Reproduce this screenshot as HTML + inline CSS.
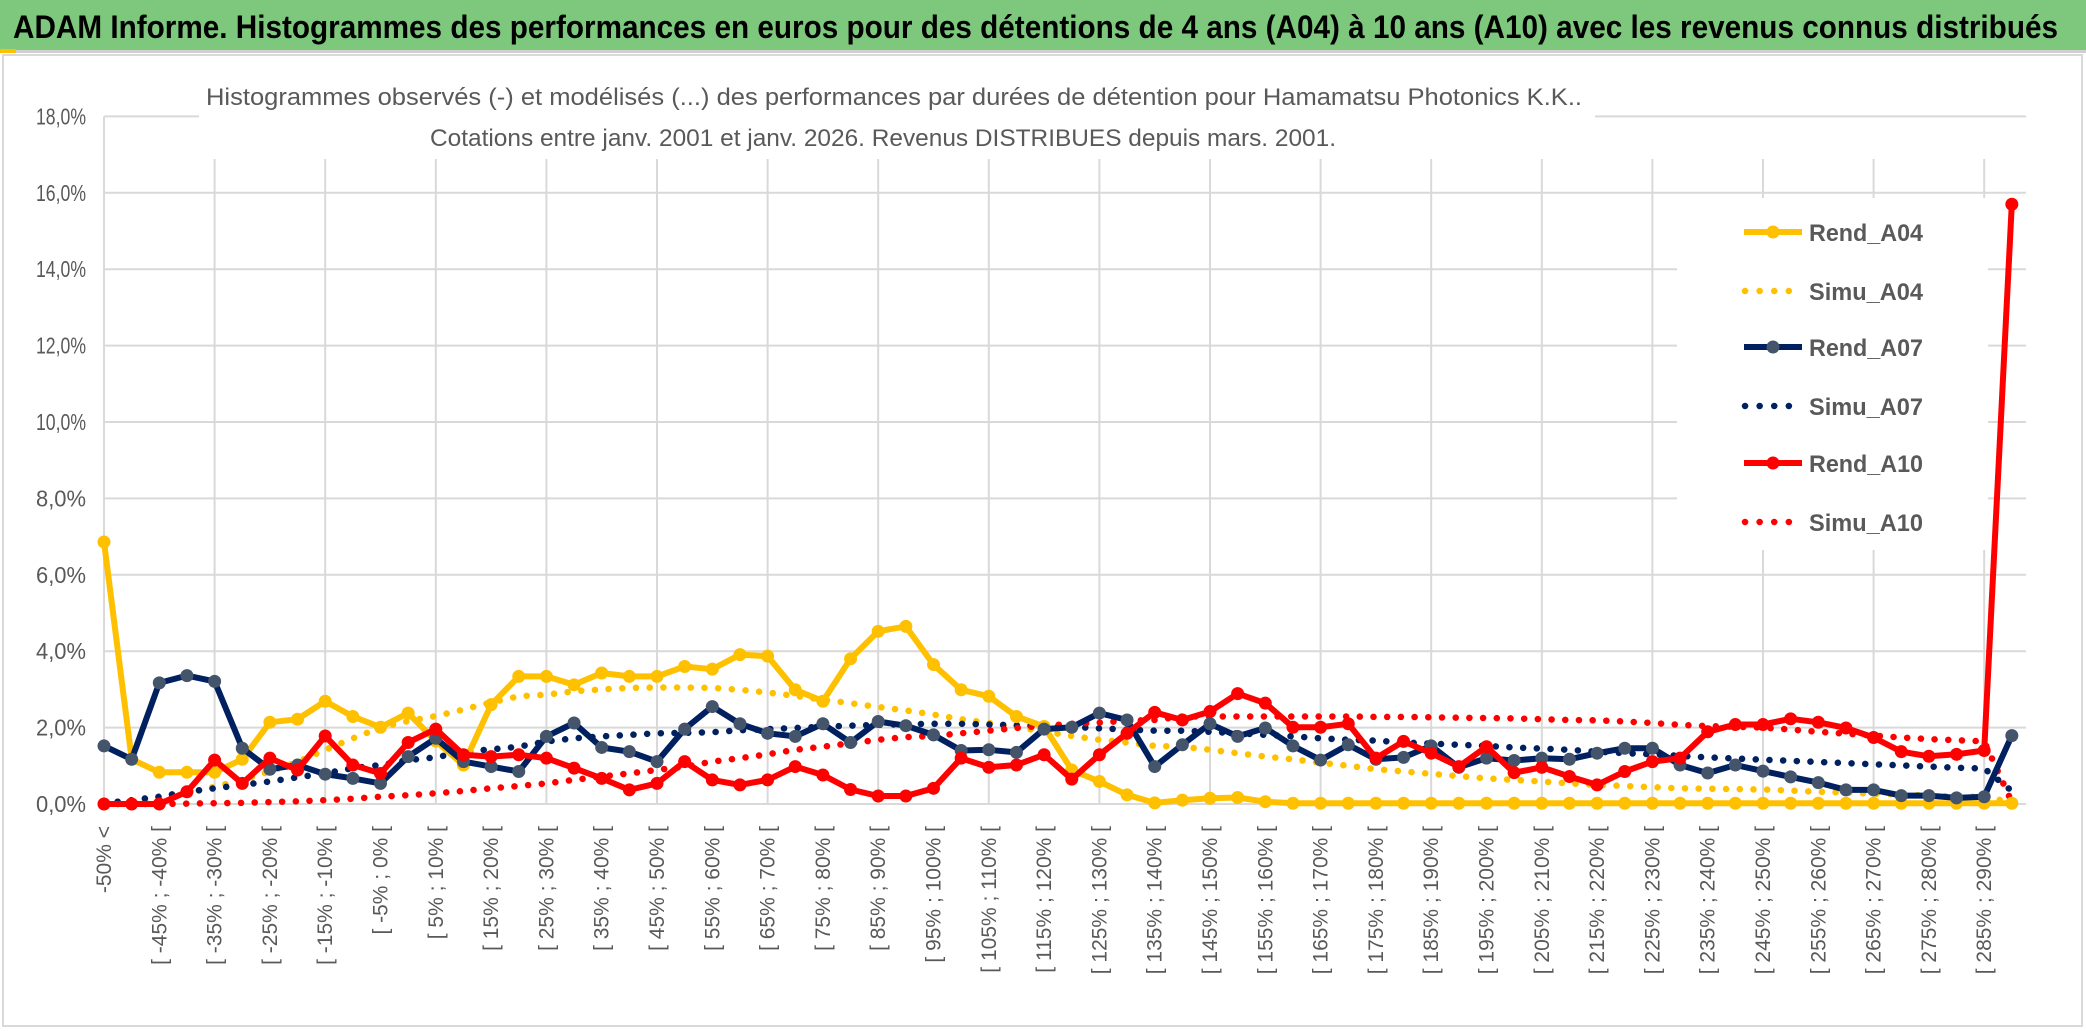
<!DOCTYPE html>
<html><head><meta charset="utf-8">
<style>
html,body{margin:0;padding:0;background:#fff;}
svg{display:block;}
text{font-family:"Liberation Sans",sans-serif;}
</style></head>
<body>
<svg id="chart" width="2086" height="1031" viewBox="0 0 2086 1031" xmlns="http://www.w3.org/2000/svg">
  <rect x="0" y="0" width="2086" height="1031" fill="#fff"/>
  <rect x="0" y="0" width="2086" height="50" fill="#7DC87D"/>
  <rect x="0" y="50" width="2086" height="3" fill="#d0d0d0"/>
  <rect x="0" y="49" width="16" height="4" fill="#FFC000"/>
  <text x="13" y="38" font-size="32" font-weight="bold" fill="#000" textLength="2045" lengthAdjust="spacingAndGlyphs">ADAM Informe. Histogrammes des performances en euros pour des détentions de 4 ans (A04) à 10 ans (A10) avec les revenus connus distribués</text>
  <rect x="3" y="55" width="2079" height="971" fill="none" stroke="#d9d9d9" stroke-width="2"/>
  <g id="grid"></g>
  <rect x="199" y="80" width="1396" height="78" fill="#fff"/>
  <text x="206" y="105" font-size="24" fill="#595959" textLength="1376" lengthAdjust="spacingAndGlyphs">Histogrammes observés (-) et modélisés (...) des performances par durées de détention pour Hamamatsu Photonics K.K..</text>
  <text x="430" y="146" font-size="24" fill="#595959" textLength="906" lengthAdjust="spacingAndGlyphs">Cotations entre janv. 2001 et janv. 2026. Revenus DISTRIBUES depuis mars. 2001.</text>
  <g id="yaxis"></g>
  <g id="xaxis"></g>
  <rect x="1677" y="198" width="311" height="352" fill="#fff"/>
  <g id="series"></g>
  <g id="legend"></g>
</svg>
<script>
const yTicks = [0,2,4,6,8,10,12,14,16,18];
const seriesNames = ["Rend_A04","Simu_A04","Rend_A07","Simu_A07","Rend_A10","Simu_A10"];
const rendA04 = [6.86,1.17,0.83,0.83,0.83,1.17,2.14,2.22,2.69,2.29,2.01,2.38,1.65,1.02,2.6,3.34,3.34,3.12,3.43,3.34,
 3.34,3.6,3.53,3.91,3.87,2.99,2.69,3.8,4.52,4.65,3.65,2.99,2.82,2.29,2.03,0.89,0.59,0.24,0.03,0.1,
 0.15,0.17,0.06,0.02,0.02,0.02,0.02,0.02,0.02,0.02,0.02,0.02,0.02,0.02,0.02,0.02,0.02,0.02,0.02,0.02,
 0.02,0.02,0.02,0.02,0.02,0.02,0.02,0.02,0.02,0.02];
const simuA04 = [0,0.05,0.12,0.28,0.45,0.63,0.85,1.1,1.42,1.72,2.0,2.17,2.3,2.47,2.66,2.82,2.86,2.95,3.0,3.04,
 3.05,3.05,3.04,2.99,2.92,2.83,2.73,2.64,2.54,2.45,2.34,2.22,2.12,2.01,1.9,1.78,1.68,1.61,1.52,1.5,
 1.42,1.33,1.24,1.17,1.08,1.0,0.91,0.85,0.79,0.73,0.67,0.63,0.59,0.54,0.5,0.47,0.44,0.41,0.4,0.39,
 0.38,0.35,0.32,0.3,0.27,0.25,0.22,0.2,0.18,0.05];
const rendA07 = [1.52,1.17,3.17,3.36,3.21,1.46,0.91,1.02,0.78,0.67,0.54,1.24,1.72,1.11,0.98,0.85,1.77,2.12,1.48,1.37,
 1.11,1.96,2.55,2.1,1.85,1.77,2.1,1.61,2.16,2.05,1.81,1.4,1.42,1.35,1.96,2.01,2.38,2.2,0.98,1.55,
 2.1,1.77,1.99,1.52,1.15,1.55,1.17,1.22,1.52,0.96,1.2,1.14,1.2,1.17,1.33,1.46,1.46,1.02,0.81,1.02,
 0.86,0.71,0.56,0.37,0.37,0.22,0.22,0.16,0.19,1.79];
const simuA07 = [0.02,0.1,0.19,0.32,0.41,0.5,0.59,0.7,0.8,0.94,1.02,1.15,1.22,1.37,1.43,1.5,1.64,1.72,1.77,1.81,
 1.85,1.86,1.88,1.93,1.96,1.99,2.02,2.05,2.07,2.09,2.1,2.1,2.08,2.06,2.04,2.02,1.98,1.95,1.92,1.92,
 1.89,1.85,1.81,1.77,1.72,1.68,1.66,1.61,1.58,1.55,1.52,1.48,1.45,1.42,1.37,1.33,1.3,1.26,1.22,1.19,
 1.16,1.13,1.1,1.07,1.04,1.01,0.98,0.95,0.93,0.34];
const rendA10 = [0,0,0,0.32,1.15,0.54,1.2,0.89,1.78,1.02,0.8,1.61,1.96,1.29,1.24,1.29,1.2,0.94,0.67,0.37,
 0.54,1.11,0.63,0.5,0.63,0.98,0.76,0.38,0.21,0.21,0.41,1.2,0.96,1.02,1.29,0.65,1.29,1.85,2.4,2.2,
 2.42,2.89,2.64,2.01,2.01,2.1,1.2,1.64,1.33,0.98,1.5,0.82,0.96,0.72,0.5,0.85,1.11,1.2,1.89,2.08,
 2.08,2.23,2.14,1.99,1.74,1.37,1.25,1.3,1.4,15.7];
const simuA10 = [0,0,0,0.01,0.02,0.03,0.05,0.07,0.1,0.14,0.19,0.23,0.28,0.34,0.41,0.47,0.54,0.63,0.72,0.8,
 0.89,0.98,1.11,1.2,1.3,1.42,1.5,1.59,1.68,1.75,1.78,1.85,1.92,1.99,2.05,2.1,2.13,2.18,2.2,2.29,
 2.29,2.29,2.29,2.29,2.29,2.29,2.28,2.28,2.27,2.26,2.25,2.24,2.22,2.2,2.19,2.16,2.12,2.07,2.04,2.02,
 2.0,1.95,1.89,1.84,1.79,1.74,1.7,1.67,1.64,0.05];
const xLabels = ["-50% <"];
for (let a = -50; a < 295; a += 5) xLabels.push("[ " + a + "% ; " + (a + 5) + "% [");

const NS = "http://www.w3.org/2000/svg";
const X0 = 104, DX = 27.65, Y0 = 804, PPV = 38.2;
function xPos(i){ return X0 + i * DX; }
function yPos(v){ return Y0 - v * PPV; }
function mk(tag, attrs, parent){
  const e = document.createElementNS(NS, tag);
  for (const k in attrs) e.setAttribute(k, attrs[k]);
  parent.appendChild(e);
  return e;
}
const grid = document.getElementById('grid');
const yaxis = document.getElementById('yaxis');
const xaxis = document.getElementById('xaxis');
const series = document.getElementById('series');
const legend = document.getElementById('legend');
const nCat = xLabels.length;
const xRight = 2026;

yTicks.forEach(t => {
  const l = mk('line', {x1: X0, x2: xRight, y1: yPos(t), y2: yPos(t), stroke: '#d9d9d9', 'stroke-width': 2}, grid);
  
  
  const tx = mk('text', {x: 86, y: yPos(t) + 8, 'font-size': 23, fill: '#595959', 'text-anchor': 'end', textLength: 50, lengthAdjust: 'spacingAndGlyphs'}, yaxis);
  tx.textContent = t.toFixed(1).replace('.', ',') + '%';
  
  
});
for (let i = 0; i < nCat; i += 4) {
  const l = mk('line', {x1: xPos(i), x2: xPos(i), y1: (i === 0 ? yPos(18) : 159), y2: Y0, stroke: '#d9d9d9', 'stroke-width': 2}, grid);
  
  
}
for (let i = 0; i < nCat; i += 2) {
  const x = xPos(i), y = 826;
  const tx = mk('text', {x: x, y: y, 'font-size': 21, fill: '#595959', 'text-anchor': 'end', transform: 'rotate(-90 ' + x + ' ' + y + ')', dy: 7}, xaxis);
  tx.textContent = xLabels[i];
  
  
}

function pts(arr){ return arr.map((v, i) => xPos(i).toFixed(1) + ',' + yPos(v).toFixed(1)).join(' '); }
function dotted(arr, color, name){
  const p = mk('polyline', {points: pts(arr), fill: 'none', stroke: color, 'stroke-width': 6.5, 'stroke-linecap': 'round', 'stroke-dasharray': '0.1 13.6'}, series);
  
  
}
function solid(arr, color, mcolor, name){
  const p = mk('polyline', {points: pts(arr), fill: 'none', stroke: color, 'stroke-width': 6, 'stroke-linejoin': 'round'}, series);
  
  
  arr.forEach((v, i) => {
    const c = mk('circle', {cx: xPos(i), cy: yPos(v), r: 6.5, fill: mcolor}, series);
    
    
  });
}
dotted(simuA04, '#FFC000', 'simu-a04-line');
dotted(simuA07, '#002060', 'simu-a07-line');
dotted(simuA10, '#FF0000', 'simu-a10-line');
solid(rendA04, '#FFC000', '#FFC000', 'rend-a04-line');
solid(rendA07, '#002060', '#44546A', 'rend-a07-line');
solid(rendA10, '#FF0000', '#FF0000', 'rend-a10-line');

const legColors = ['#FFC000','#FFC000','#002060','#002060','#FF0000','#FF0000'];
const legMarker = ['#FFC000',null,'#44546A',null,'#FF0000',null];
const legY = [232,291,347,406,463,522];
seriesNames.forEach((n, k) => {
  const y = legY[k];
  const g = mk('g', {}, legend);
  
  
  if (legMarker[k]) {
    mk('line', {x1: 1744, x2: 1802, y1: y, y2: y, stroke: legColors[k], 'stroke-width': 6}, g);
    mk('circle', {cx: 1773, cy: y, r: 6.5, fill: legMarker[k]}, g);
  } else {
    mk('line', {x1: 1745, x2: 1802, y1: y, y2: y, stroke: legColors[k], 'stroke-width': 6.5, 'stroke-linecap': 'round', 'stroke-dasharray': '0.1 14.5'}, g);
  }
  const t = mk('text', {x: 1809, y: y + 9, 'font-size': 24, 'font-weight': 'bold', fill: '#595959', textLength: 114, lengthAdjust: 'spacingAndGlyphs'}, g);
  t.textContent = n;
});
</script>
</body></html>
